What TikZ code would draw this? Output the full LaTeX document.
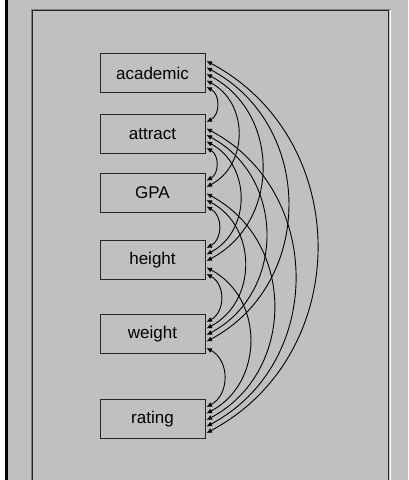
\documentclass[tikz,border=0pt]{standalone}
\usepackage{fontspec}
\setmainfont{Liberation Sans}
\usetikzlibrary{arrows.meta,calc}
\definecolor{panelgray}{HTML}{C0C0C0}
\definecolor{edgegray}{HTML}{808080}
\tikzset{
  varbox/.style = {rectangle, draw=black!85, line width=1pt, minimum width=105pt,
                   minimum height=39pt, inner sep=0pt, font=\fontsize{17}{19}\selectfont},
  covar/.style  = {{Latex[length=5.5pt,width=5pt]}-{Latex[length=5.5pt,width=5pt]},
                   line width=0.9pt, draw=black},
}
\begin{document}
\begin{tikzpicture}[x=1pt,y=-1pt]
  \fill[panelgray] (0,0) rectangle (408,480);
  \useasboundingbox (0,0) rectangle (408,480);
  \fill[white] (0,0) rectangle (5,480);
  \fill[black] (5,0) rectangle (7.5,480);
  % sunken panel edge
  \draw[edgegray, line width=1pt] (31.5,480) -- (31.5,9.5) -- (390.5,9.5);
  \draw[black!85, line width=1pt] (32.5,480) -- (32.5,10.5) -- (388.5,10.5) -- (388.5,480);
  \draw[white, line width=1pt] (390.5,10) -- (390.5,480);

  \foreach \i/\cy/\txt in {1/73/academic, 2/134/attract, 3/192.5/GPA,
                           4/260/height, 5/334/weight, 6/419/rating}{
    \node[varbox] (v\i) at (152.5,\cy) {\txt};
    \foreach \k in {1,...,5}
      \coordinate (v\i-\k) at ($(v\i.east)+(1,{1+(\k-3)*6.5})$);
  }

  % one covariance for every pair, nested so the widest is outside
  \foreach \i in {1,...,5}{
    \pgfmathtruncatemacro\first{\i+1}
    \foreach \j in {\first,...,6}{
      \pgfmathtruncatemacro\si{\i-\j+6}
      \pgfmathtruncatemacro\sj{\j-\i}
      \draw[covar] (v\i-\si) to[bend left=62, looseness=1.15] (v\j-\sj);
    }
  }
\end{tikzpicture}
\end{document}
